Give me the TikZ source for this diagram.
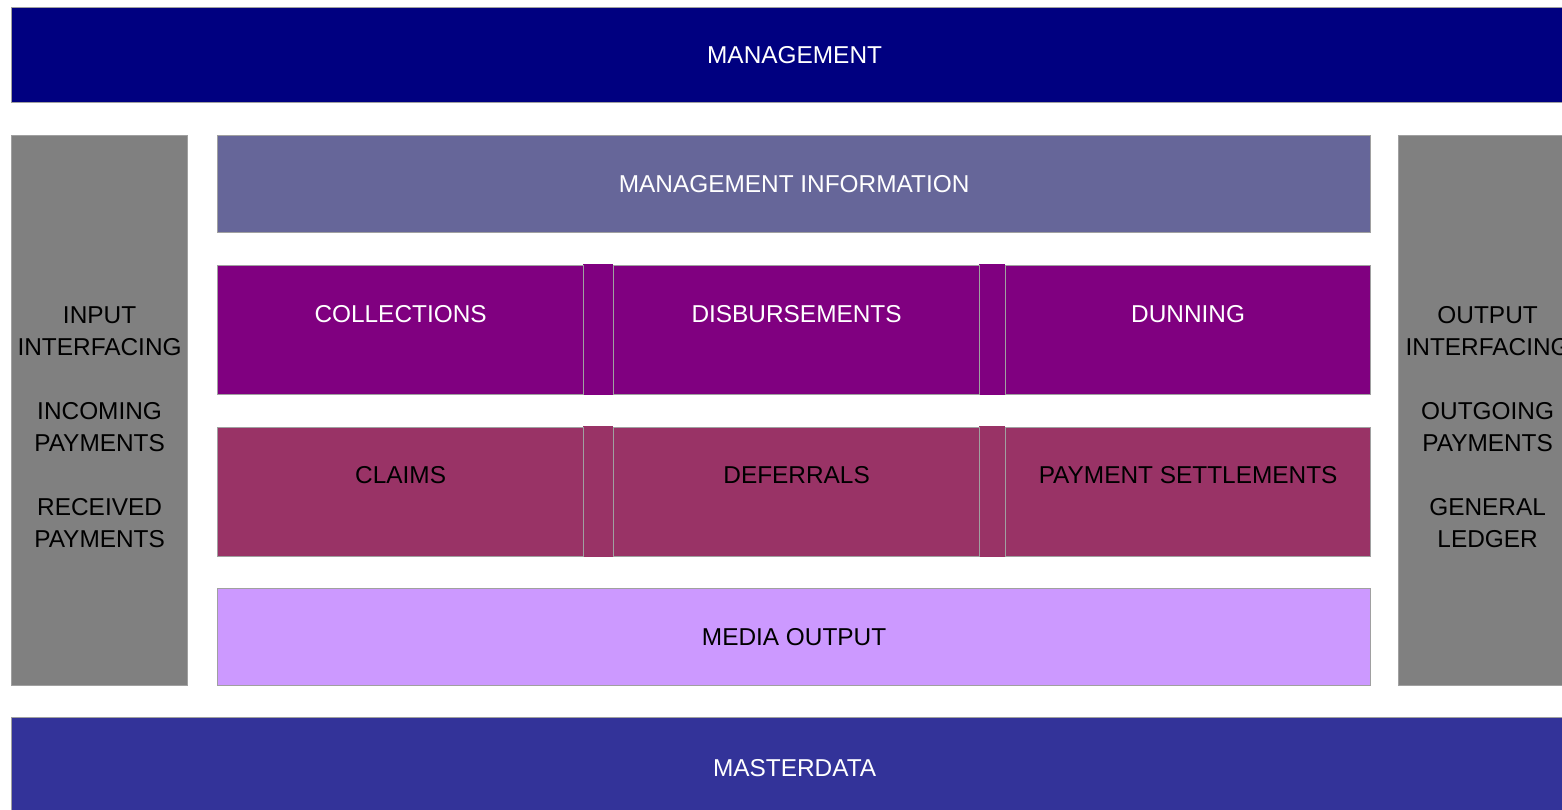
\documentclass[tikz,border=0pt]{standalone}
\usepackage{fontspec}
\setmainfont{Liberation Sans}
\usetikzlibrary{positioning}

\definecolor{navyblue}{HTML}{000080}
\definecolor{infoblue}{HTML}{666699}
\definecolor{procpurple}{HTML}{800080}
\definecolor{claimred}{HTML}{993366}
\definecolor{medialilac}{HTML}{CC99FF}
\definecolor{sidegray}{HTML}{808080}
\definecolor{masterblue}{HTML}{333399}
\definecolor{edgegray}{HTML}{A0A0A0}

\tikzset{
  blk/.style={draw=edgegray, line width=0.6pt, inner sep=0pt, anchor=north west},
  link/.style={inner sep=0pt, anchor=north west, minimum height=65.5pt},
  lbl/.style={font=\fontsize{12.2}{16}\selectfont, align=center, inner sep=0pt},
}

\begin{document}
\begin{tikzpicture}[x=0.5pt, y=-0.5pt]
    \useasboundingbox (0,0) rectangle (1562,809);
    % bars on top and bottom
    \node[blk, fill=navyblue, minimum width=783pt, minimum height=47.5pt] (mgmt) at (11,7) {};
    \node[blk, fill=masterblue, minimum width=783pt, minimum height=50pt] (master) at (11,717) {};
    % side columns
    \node[blk, fill=sidegray, minimum width=88pt, minimum height=275pt] (inside) at (11,135) {};
    \node[blk, fill=sidegray, minimum width=89pt, minimum height=275pt] (outside) at (1398,135) {};
    % middle column
    \node[blk, fill=infoblue, minimum width=576.5pt, minimum height=48.5pt] (info) at (217,135) {};
    \node[link, fill=procpurple, minimum width=15pt] (linkA) at (583,264) {};
    \node[link, fill=procpurple, minimum width=13pt] (linkB) at (979,264) {};
    \node[link, fill=claimred, minimum width=15pt] (linkC) at (583,426) {};
    \node[link, fill=claimred, minimum width=13pt] (linkD) at (979,426) {};
    \node[blk, fill=procpurple, minimum width=183pt, minimum height=64.5pt] (coll) at (217,265) {};
    \node[blk, fill=procpurple, minimum width=183pt, minimum height=64.5pt] (disb) at (613,265) {};
    \node[blk, fill=procpurple, minimum width=182.5pt, minimum height=64.5pt] (dunn) at (1005,265) {};
    \node[blk, fill=claimred, minimum width=183pt, minimum height=64.5pt] (claims) at (217,427) {};
    \node[blk, fill=claimred, minimum width=183pt, minimum height=64.5pt] (defer) at (613,427) {};
    \node[blk, fill=claimred, minimum width=182.5pt, minimum height=64.5pt] (settle) at (1005,427) {};
    \node[blk, fill=medialilac, minimum width=576.5pt, minimum height=48.5pt] (media) at (217,588) {};
    % texts
    \node[lbl, white] (mgmtT) at (mgmt.center) {MANAGEMENT};
    \node[lbl, white] (masterT) at (master.center) {MASTERDATA};
    \node[lbl, white] (infoT) at (info.center) {MANAGEMENT INFORMATION};
    \node[lbl] (mediaT) at (media.center) {MEDIA OUTPUT};
    \node[lbl, white] (collT) at ([yshift=-24.5pt]coll.north) {COLLECTIONS};
    \node[lbl, white] (disbT) at ([yshift=-24.5pt]disb.north) {DISBURSEMENTS};
    \node[lbl, white] (dunnT) at ([yshift=-24.5pt]dunn.north) {DUNNING};
    \node[lbl] (claimsT) at ([yshift=-24pt]claims.north) {CLAIMS};
    \node[lbl] (deferT) at ([yshift=-24pt]defer.north) {DEFERRALS};
    \node[lbl] (settleT) at ([yshift=-24pt]settle.north) {PAYMENT SETTLEMENTS};
    \node[lbl] (insideT) at ([yshift=-146pt]inside.north) {INPUT\\INTERFACING\\[16pt]INCOMING\\PAYMENTS\\[16pt]RECEIVED\\PAYMENTS};
    \node[lbl] (outsideT) at ([yshift=-146pt]outside.north) {OUTPUT\\INTERFACING\\[16pt]OUTGOING\\PAYMENTS\\[16pt]GENERAL\\LEDGER};
\end{tikzpicture}
\end{document}
